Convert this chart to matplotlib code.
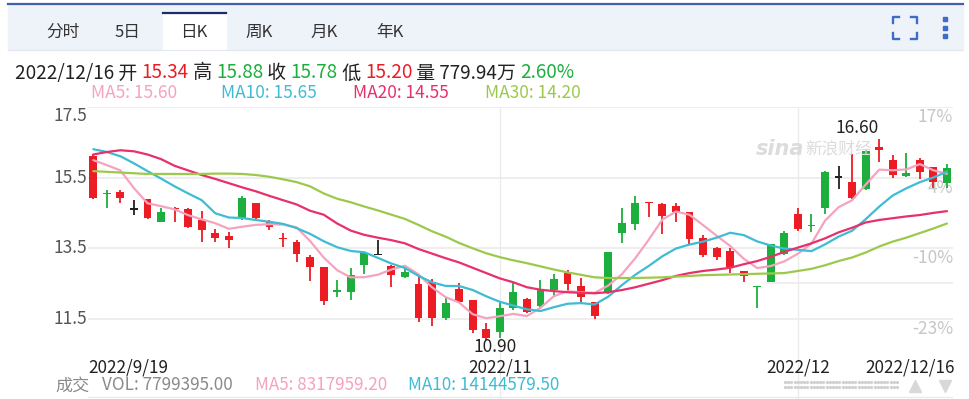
'''
Daily K-line chart, sina finance style, 2022/9 - 2022/12.
'''

import matplotlib
matplotlib.use('Agg')
import matplotlib.pyplot as plt
import matplotlib.transforms as mtransforms
import numpy as np
import pandas as pd
from matplotlib.lines import Line2D
from matplotlib.patches import Rectangle

plt.rcParams['font.family'] = ['Noto Sans CJK SC', 'DejaVu Sans']

WIDTH = 969
HEIGHT = 399

# daily bars
opens = [16.12, 15.03, 15.10, 14.61, 14.89, 14.25, 14.65, 14.61, 14.30, 13.92,
         13.85, 14.33, 14.77, 14.25, 13.80, 13.67, 13.26, 12.96, 12.28, 12.26,
         13.03, 13.33, 12.99, 12.70, 12.48, 12.56, 11.52, 12.35, 12.04, 11.21,
         11.14, 11.81, 12.07, 11.88, 12.32, 12.81, 12.44, 11.97, 12.26, 13.92,
         14.18, 14.82, 14.74, 14.69, 14.52, 13.78, 13.50, 13.42, 12.86, 12.41,
         12.56, 13.33, 14.46, 14.13, 14.63, 15.51, 15.38, 15.18, 16.37, 15.99,
         15.54, 15.99, 15.79, 15.34]
highs = [16.15, 15.15, 15.15, 14.86, 14.90, 14.63, 14.68, 14.63, 14.55, 14.05,
         13.97, 14.98, 14.78, 14.30, 13.92, 13.73, 13.31, 12.97, 12.60, 12.95,
         13.40, 13.73, 13.02, 12.94, 12.73, 12.63, 12.10, 12.51, 12.05, 11.38,
         11.95, 12.56, 12.10, 12.60, 12.77, 12.89, 12.65, 11.99, 13.40, 14.63,
         14.99, 14.82, 14.77, 14.79, 14.53, 13.88, 13.55, 13.50, 12.86, 12.42,
         13.62, 13.99, 14.63, 14.46, 15.68, 15.83, 16.16, 16.28, 16.60, 16.14,
         16.18, 16.04, 15.81, 15.88]
lows = [14.90, 14.64, 14.77, 14.44, 14.34, 14.25, 14.23, 14.08, 13.69, 13.67,
        13.50, 14.30, 14.34, 14.02, 13.55, 13.12, 12.58, 11.90, 12.13, 12.04,
        12.77, 13.30, 12.42, 12.65, 11.43, 11.31, 11.48, 11.95, 11.10, 10.90,
        10.96, 11.76, 11.66, 11.81, 12.13, 12.27, 11.99, 11.50, 12.20, 13.64,
        14.02, 14.39, 13.90, 14.23, 13.59, 13.26, 13.17, 12.79, 12.56, 11.81,
        12.55, 13.31, 13.99, 13.95, 14.46, 15.18, 14.89, 15.15, 15.95, 15.49,
        15.52, 15.46, 15.19, 15.20]
closes = [14.93, 15.06, 14.91, 14.61, 14.35, 14.52, 14.61, 14.09, 14.02, 13.80,
          13.73, 14.91, 14.35, 14.11, 13.76, 13.33, 12.98, 12.02, 12.31, 12.75,
          13.36, 13.33, 12.75, 12.84, 11.54, 11.52, 11.95, 11.99, 11.19, 10.97,
          11.81, 12.27, 11.69, 12.35, 12.63, 12.49, 12.13, 11.60, 13.39, 14.21,
          14.77, 14.77, 14.42, 14.52, 13.76, 13.31, 13.26, 12.98, 12.73, 12.42,
          13.61, 13.92, 14.05, 14.16, 15.66, 15.51, 14.91, 16.25, 16.28, 15.57,
          15.63, 15.66, 15.38, 15.78]

# the first MA5 / MA10 points depend on bars left of the window
ma5_head = [15.99, 15.85, 15.70, 15.20]
ma10_head = [16.30, 16.22, 16.10, 15.90, 15.68, 15.47, 15.25, 15.05, 14.86]
ma20 = [16.15, 16.22, 16.27, 16.24, 16.15, 16.02, 15.83, 15.70, 15.57, 15.46,
        15.34, 15.22, 15.11, 14.98, 14.86, 14.74, 14.56, 14.45, 14.20, 14.00,
        13.88, 13.80, 13.73, 13.64, 13.48, 13.35, 13.22, 13.10, 12.95, 12.80,
        12.65, 12.54, 12.40, 12.33, 12.29, 12.26, 12.24, 12.23, 12.26, 12.32,
        12.40, 12.50, 12.60, 12.72, 12.80, 12.86, 12.90, 12.95, 13.05, 13.14,
        13.26, 13.40, 13.52, 13.64, 13.78, 13.95, 14.08, 14.23, 14.30, 14.35,
        14.40, 14.44, 14.50, 14.55]
ma30 = [15.68, 15.66, 15.64, 15.62, 15.60, 15.60, 15.60, 15.60, 15.60, 15.61,
        15.61, 15.60, 15.57, 15.52, 15.45, 15.37, 15.25, 15.05, 14.90, 14.80,
        14.68, 14.57, 14.45, 14.33, 14.16, 13.98, 13.83, 13.65, 13.50, 13.36,
        13.25, 13.16, 13.08, 12.99, 12.90, 12.82, 12.75, 12.68, 12.66, 12.66,
        12.66, 12.67, 12.68, 12.70, 12.72, 12.74, 12.75, 12.76, 12.77, 12.78,
        12.79, 12.80, 12.86, 12.92, 13.02, 13.14, 13.24, 13.38, 13.55, 13.69,
        13.80, 13.93, 14.06, 14.20]
# values shown in the MA legend line
ma_legend = [15.60, 15.65, 14.55, 14.20]

tabs = ['分时', '5日', '日K', '周K', '月K', '年K']
price_ticks = [17.5, 15.5, 13.5, 11.5]
pct_labels = ['17%', '4%', '-10%', '-23%']
date_labels = ['2022/9/19', '2022/11', '2022/12', '2022/12/16']
month_index = [30, 52]

RED = '#ec1c24'
GREEN = '#1caf3d'
TEXT = '#222222'
MA_COLORS = ['#f5a3be', '#3ebcd3', '#e8306a', '#9cc94b']


def fx(px):
    return px / WIDTH


def fy(py):
    return 1 - py / HEIGHT


def draw_runs(fig, renderer, x_px, y_px, runs, size, **kwargs):
    '''
    Write coloured pieces of text one after the other.
    '''
    for text, color in runs:
        t = fig.text(fx(x_px), fy(y_px), text, color=color, fontsize=size,
                     ha='left', va='center', **kwargs)
        x_px += t.get_window_extent(renderer).width
    return x_px


def draw_header(fig, renderer):
    '''
    Tab bar, icons and the quote lines above the chart.
    '''
    fig.add_artist(Rectangle((fx(8), fy(50)), fx(963) - fx(8), 45 / HEIGHT,
                             transform=fig.transFigure, color='#eef2f9', zorder=0))
    fig.add_artist(Line2D([fx(8), fx(963)], [fy(3.5), fy(3.5)], color='#3f61ad', lw=1.6))
    fig.add_artist(Line2D([fx(8), fx(963)], [fy(50), fy(50)], color='#e2e7f0', lw=0.8))
    fig.add_artist(Rectangle((fx(163), fy(51)), fx(226) - fx(163), 39 / HEIGHT,
                             transform=fig.transFigure, color='white', zorder=1))
    fig.add_artist(Line2D([fx(163), fx(226)], [fy(12.5), fy(12.5)], color='#1c2c66', lw=1.6))
    for label, xc in zip(tabs, [63, 128, 194, 259, 324, 390]):
        fig.text(fx(xc), fy(32), label, fontsize=12, color='#333333',
                 ha='center', va='center')

    icon = '#3d6dc6'
    for xs, ys in [([893, 893, 899], [23, 17, 17]), ([911, 917, 917], [17, 17, 23]),
                   ([893, 893, 899], [33, 39, 39]), ([911, 917, 917], [39, 39, 33])]:
        fig.add_artist(Line2D([fx(v) for v in xs], [fy(v) for v in ys], color=icon, lw=1.7))
    fig.add_artist(Line2D([fx(944.5)] * 3, [fy(19), fy(27.5), fy(36)], ls='none',
                          marker='s', ms=2.8, color=icon))

    draw_runs(fig, renderer, 15, 73, [
        ('2022/12/16 开 ', TEXT), ('15.34', RED), (' 高 ', TEXT), ('15.88', GREEN),
        (' 收 ', TEXT), ('15.78', GREEN), (' 低 ', TEXT), ('15.20', RED),
        (' 量 779.94万 ', TEXT), ('2.60%', GREEN)], 13.6)
    names = ['MA5', 'MA10', 'MA20', 'MA30']
    for name, value, color, xp in zip(names, ma_legend, MA_COLORS, [91, 221, 353, 485]):
        fig.text(fx(xp), fy(93), f'{name}: {value:.2f}', color=color, fontsize=12.5,
                 ha='left', va='center')


def moving_average(values, window, head):
    '''
    Rolling mean of the closes, with the leading points taken from the chart.
    '''
    ma = pd.Series(values).rolling(window).mean().to_numpy()
    ma[:len(head)] = head
    return ma


def main() -> None:
    fig = plt.figure(figsize=(WIDTH / 100, HEIGHT / 100), dpi=100)
    renderer = fig.canvas.get_renderer()

    bar_px, first_px, unit_px = 13.55, 93.3, 35.4
    ax = fig.add_axes([fx(88), 0, fx(953) - fx(88), fy(106.7)])
    ax.set_xlim((88 - first_px) / bar_px, (953 - first_px) / bar_px)
    ax.set_ylim(17.5 - (HEIGHT - 106.7) / unit_px, 17.5)
    ax.axis('off')

    grid = '#ebebeb'
    for p in price_ticks:
        ax.axhline(p, color=grid, lw=1.2, zorder=0)
    for i in month_index:
        ax.axvline(i, color=grid, lw=1.0, zorder=0)
    ax.axhline(12.52, xmin=0.785, color=grid, lw=1.2, zorder=0)
    ax.axhline(9.30, color=grid, lw=1.0, zorder=0)

    ytrans = ax.get_yaxis_transform()
    for k, (p, pct) in enumerate(zip(price_ticks, pct_labels)):
        ax.text(-0.001, p, f'{p:.1f}', transform=ytrans, ha='right',
                va='top' if k == 0 else 'center', fontsize=12.5, color='#555555')
        ax.text(1.0, p - 0.03, pct, transform=ytrans, ha='right', va='top',
                fontsize=12.5, color='#c6c6c6', zorder=0)

    # watermark
    x_wm = draw_runs(fig, renderer, 756, 149, [('sina', '#dcdcdc')], 15,
                     fontweight='bold', style='italic', family='DejaVu Sans')
    draw_runs(fig, renderer, x_wm + 1, 149, [('新浪财经', '#dcdcdc')], 12)

    o, h, l, c = (np.array(v) for v in (opens, highs, lows, closes))
    x = np.arange(len(c))
    colors = np.where(c > o, GREEN, np.where(c < o, RED, '#222222'))
    ax.vlines(x, l, h, colors=colors, lw=1.3, zorder=2)
    body = np.maximum(np.abs(c - o), 0.04)
    bottom = np.minimum(o, c) - (body - np.abs(c - o)) / 2
    ax.bar(x, body, bottom=bottom, width=0.58, color=colors, zorder=2)

    ma_lines = [moving_average(closes, 5, ma5_head), moving_average(closes, 10, ma10_head),
                np.array(ma20), np.array(ma30)]
    for ma, color in zip(ma_lines, MA_COLORS):
        ax.plot(x, ma, color=color, lw=1.6, zorder=3, solid_capstyle='round')

    hi = int(np.argmax(h))
    lo = int(np.argmin(l))
    ax.text(hi, h[hi] + 0.05, f'{h[hi]:.2f}', ha='right', va='bottom',
            fontsize=12.5, color=TEXT)
    ax.text(lo + 0.65, l[lo] + 0.08, f'{l[lo]:.2f}', ha='center', va='top',
            fontsize=12.5, color=TEXT)

    # date axis
    date_tr = mtransforms.blended_transform_factory(ax.transData, fig.transFigure)
    x_left, x_right = ax.get_xlim()
    for label, xpos, align in zip(date_labels, [x_left] + month_index + [x_right + 0.15],
                                  ['left', 'center', 'center', 'right']):
        ax.text(xpos, fy(367), label, transform=date_tr, ha=align, va='center',
                fontsize=12.3, color=TEXT)

    # volume header
    vol_y = fy(385.5)
    fig.text(fx(55), vol_y, '成交', fontsize=12.3, color='#8a8a8a', va='center')
    fig.text(fx(102), vol_y, 'VOL: 7799395.00', fontsize=12.3, color='#8a8a8a', va='center')
    fig.text(fx(255), vol_y, 'MA5: 8317959.20', fontsize=12.3, color=MA_COLORS[0], va='center')
    fig.text(fx(408), vol_y, 'MA10: 14144579.50', fontsize=12.3, color=MA_COLORS[1], va='center')

    dots_x = np.arange(785, 898, 3.2)
    for yp in (381.7, 386.7):
        fig.add_artist(Line2D(fx(dots_x), np.full(len(dots_x), fy(yp)), ls='none',
                              marker='o', ms=1.3, color='#d0d0d0'))
    fig.add_artist(Line2D([fx(915)], [fy(386)], ls='none', marker='^', ms=8, color='#d8d8d8'))
    fig.add_artist(Line2D([fx(945)], [fy(386)], ls='none', marker='v', ms=8, color='#d8d8d8'))

    draw_header(fig, renderer)
    fig.savefig('out.png', dpi=100)


if __name__ == '__main__':
    main()
